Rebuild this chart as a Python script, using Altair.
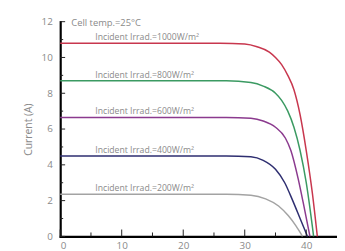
import altair as alt
import pandas as pd

# Series: voltage (V) and current (A) points
v1000 = [0, 26, 30, 32, 34, 35, 36, 37, 38, 39, 40, 41, 41.8]
i1000 = [10.8, 10.8, 10.75, 10.6, 10.3, 10.0, 9.6, 9.0, 8.2, 6.8, 4.8, 2.4, 0]
v800 = [0, 27, 31, 33, 35, 36, 37, 38, 39, 40, 41.2]
i800 = [8.7, 8.7, 8.6, 8.4, 8.0, 7.6, 7.0, 6.1, 4.8, 3.0, 0]
v600 = [0, 27, 31, 33, 35, 36.6, 37.5, 38.7, 39.5, 40.6]
i600 = [6.65, 6.65, 6.6, 6.45, 6.1, 5.5, 4.8, 3.2, 1.9, 0]
v400 = [0, 27, 31, 33, 35, 36.5, 37.8, 39, 40.2]
i400 = [4.5, 4.5, 4.45, 4.25, 3.75, 3.0, 2.0, 1.0, 0]
v200 = [0, 27, 31, 33.4, 35.5, 37.1, 38.3, 39.4]
i200 = [2.35, 2.35, 2.3, 2.1, 1.7, 1.15, 0.6, 0]

series_names = ["1000", "800", "600", "400", "200"]
series_colors = ["#c8374e", "#3b9a62", "#8b3a8e", "#2e2e70", "#a3a3a3"]
label_texts = ["Incident Irrad.=1000W/m²", "Incident Irrad.=800W/m²",
               "Incident Irrad.=600W/m²", "Incident Irrad.=400W/m²",
               "Incident Irrad.=200W/m²"]
label_x = [5.7, 5.7, 5.7, 5.7, 5.7]
label_y = [10.98, 8.88, 6.83, 4.68, 2.55]

x_major = [0, 10, 20, 30, 40]
x_minor = [5, 15, 25, 35]
y_major = [0, 2, 4, 6, 8, 10, 12]
y_minor = [1, 3, 5, 7, 9, 11]

W, H = 281, 218
FONT = "Open Sans"
GRAY = "#8a8a8a"

rows = []
for name, vs, cs in zip(series_names, [v1000, v800, v600, v400, v200],
                        [i1000, i800, i600, i400, i200]):
    for k, (v, c) in enumerate(zip(vs, cs)):
        rows.append({"s": name, "v": v, "i": c, "o": k})
df = pd.DataFrame(rows)

xs = alt.Scale(domain=[0, 45], nice=False)
ys = alt.Scale(domain=[0, 12], nice=False)
xaxis = alt.Axis(values=x_major, tickSize=0, grid=False, domainColor="#000",
                 domainWidth=2.2, labelColor=GRAY, labelFont=FONT, labelFontSize=10,
                 labelPadding=4, labelOverlap=False, title=None)
yaxis = alt.Axis(values=y_major, tickSize=0, grid=False, domainColor="#000",
                 domainWidth=2.2, labelColor=GRAY, labelFont=FONT, labelFontSize=10,
                 labelPadding=8, labelOverlap=False, title="Current (A)",
                 titleColor=GRAY, titleFont=FONT, titleFontSize=10.5,
                 titleFontWeight="normal", titlePadding=8)


def X(f):
    return alt.X(f, scale=xs, axis=xaxis, title=None)


def Y(f):
    return alt.Y(f, scale=ys, axis=yaxis, title="Current (A)")


lines = alt.Chart(df).mark_line(strokeWidth=1.5, interpolate="monotone").encode(
    x=X("v:Q"), y=Y("i:Q"),
    color=alt.Color("s:N", scale=alt.Scale(domain=series_names, range=series_colors), legend=None),
    order="o:Q",
)

lab_df = pd.DataFrame({"t": label_texts, "v": label_x, "i": label_y})
labels = alt.Chart(lab_df).mark_text(align="left", baseline="alphabetic", font=FONT,
                                      fontSize=8.8, color=GRAY).encode(
    x=X("v:Q"), y=Y("i:Q"), text="t:N")

title_df = pd.DataFrame({"t": ["Cell temp.=25°C"], "v": [1.8], "i": [11.9]})
title_txt = alt.Chart(title_df).mark_text(align="left", baseline="middle", font=FONT,
                                           fontSize=9.5, color=GRAY).encode(
    x=X("v:Q"), y=Y("i:Q"), text="t:N")

xt_major = alt.Chart(pd.DataFrame({"v": x_major})).mark_rule(color="#222", strokeWidth=1).encode(
    x=X("v:Q"), y=alt.value(H), y2=alt.value(H - 7))
xt_minor = alt.Chart(pd.DataFrame({"v": x_minor})).mark_rule(color="#222", strokeWidth=1).encode(
    x=X("v:Q"), y=alt.value(H), y2=alt.value(H - 4))
yt_major = alt.Chart(pd.DataFrame({"i": y_major})).mark_rule(color="#222", strokeWidth=1).encode(
    y=Y("i:Q"), x=alt.value(0), x2=alt.value(5))
yt_minor = alt.Chart(pd.DataFrame({"i": y_minor})).mark_rule(color="#222", strokeWidth=1).encode(
    y=Y("i:Q"), x=alt.value(0), x2=alt.value(3))

chart = alt.layer(lines, labels, title_txt, xt_major, xt_minor, yt_major, yt_minor).properties(
    width=W, height=H,
    autosize=alt.AutoSizeParams(type="none"),
    padding={"left": 53, "top": 12, "right": 0, "bottom": 18},
).configure_view(stroke=None).configure_axis(domainCap="square")

chart.save("out.html", embed_options={"renderer": "svg", "actions": False})
